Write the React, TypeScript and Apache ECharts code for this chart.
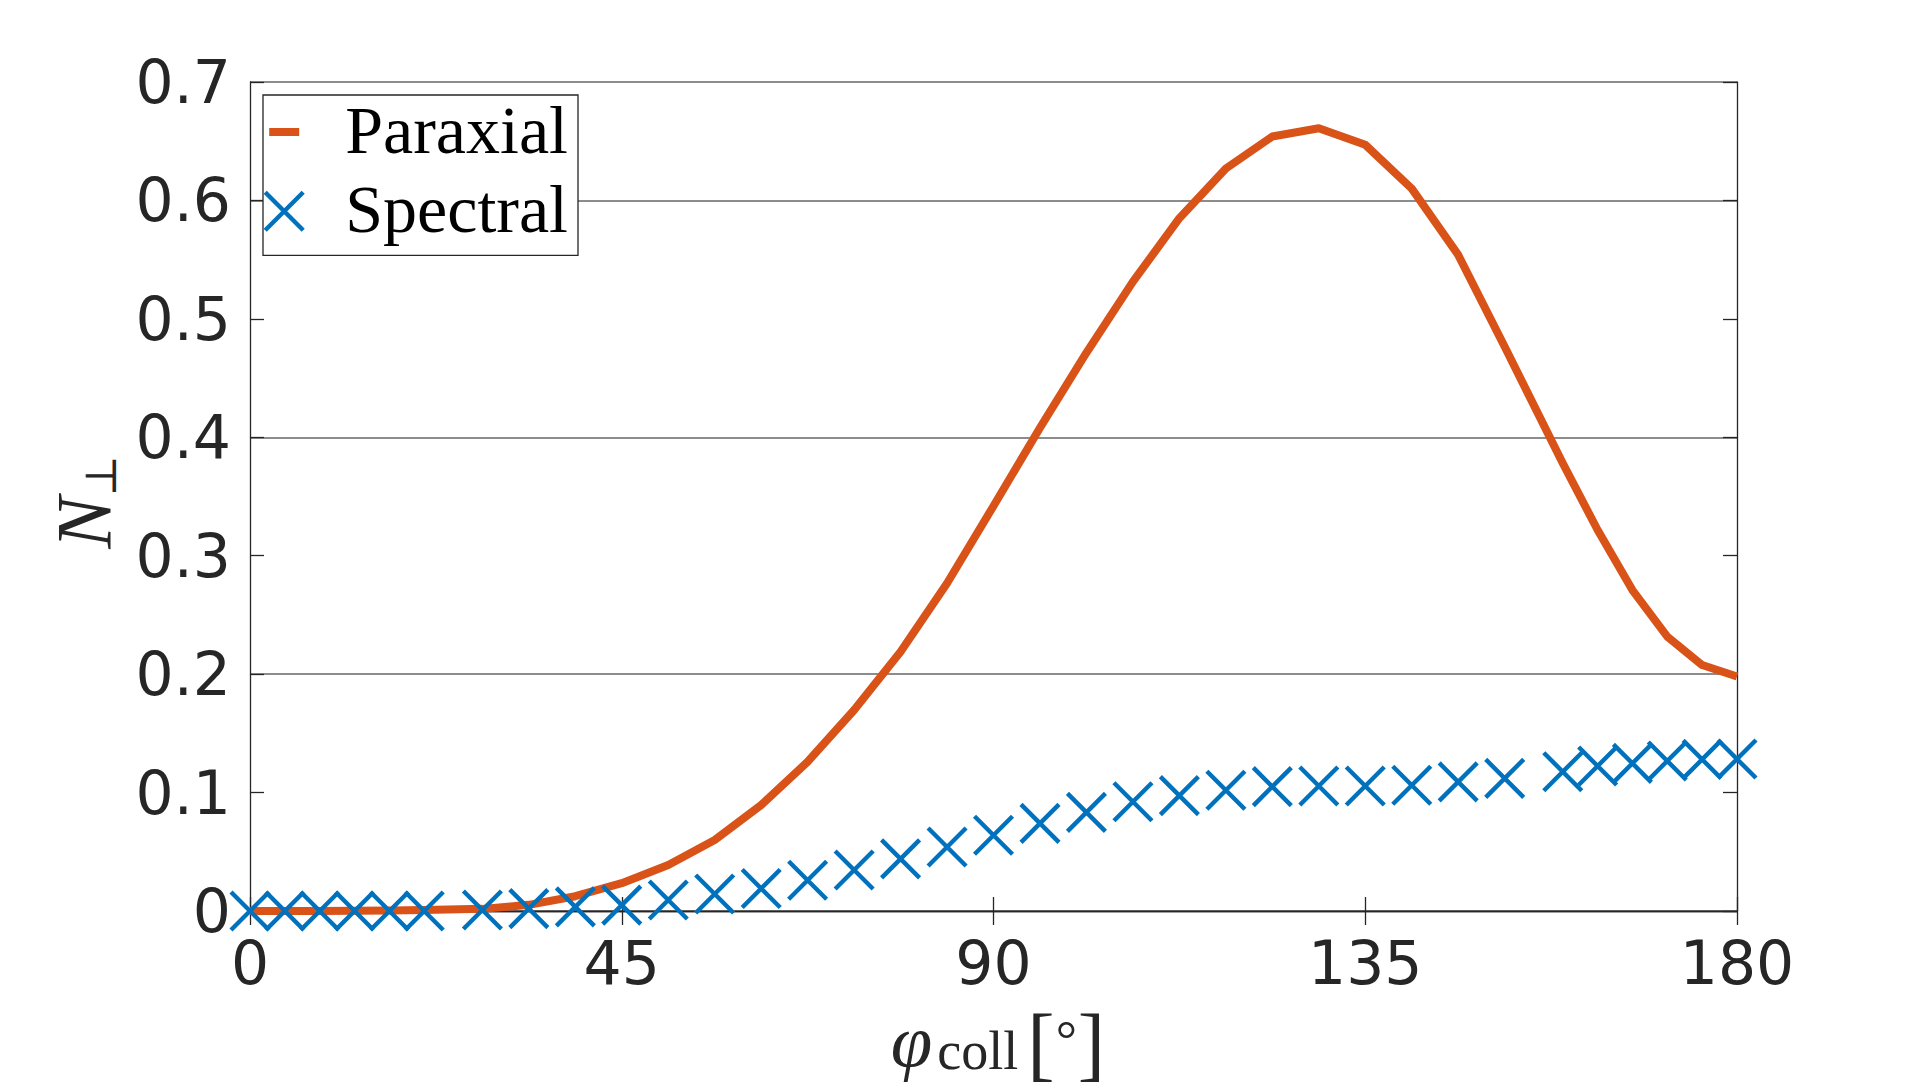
import React, { useEffect, useRef } from 'react';
import * as echarts from 'echarts';

// Collision angle samples (degrees)
const angles = [
  0, 4.22, 8.44, 12.66, 16.88, 21.09, 28.13, 33.75, 39.38, 45, 50.63, 56.25,
  61.88, 67.5, 73.13, 78.75, 84.38, 90, 95.63, 101.25, 106.88, 112.5, 118.13,
  123.75, 129.38, 135, 140.63, 146.25, 151.88, 158.91, 163.13, 167.34, 171.56,
  175.78, 180,
];

// N_perp from the paraxial approximation
const paraxial = [
  0, 0, 0.0001, 0.0002, 0.0004, 0.0008, 0.0018, 0.0052, 0.0125, 0.0235, 0.0388,
  0.06, 0.0895, 0.126, 0.1697, 0.219, 0.2767, 0.342, 0.408, 0.4714, 0.5314,
  0.585, 0.627, 0.654, 0.661, 0.647, 0.61, 0.554, 0.4765, 0.378, 0.3217, 0.271,
  0.2316, 0.2077, 0.198,
];

// N_perp from the spectral calculation
const spectral = [
  0, 0, 0, 0, 0, 0, 0.0008, 0.002, 0.0035, 0.005, 0.0093, 0.0144, 0.019, 0.026,
  0.0346, 0.044, 0.054, 0.064, 0.074, 0.0833, 0.0923, 0.0974, 0.102, 0.105,
  0.1055, 0.1055, 0.1062, 0.109, 0.112, 0.1176, 0.1224, 0.1247, 0.1267, 0.128,
  0.1283,
];

const seriesNames = ['Paraxial', 'Spectral'];
const xRange = [0, 180];
const xStep = 45;
const yRange = [0, 0.7];
const yStep = 0.1;
const gridStep = 0.2;

const AXIS = '#262626';
const ORANGE = '#D95319';
const BLUE = '#0072BD';
const CROSS = 'path://M0,0L10,10M10,0L0,10';
// Legend icons live in a 70x70 box (corner moves fix the box) and sit a
// little below the box centre, so the label reads slightly above them.
const LEGEND_DASH = 'path://M0,0ZM4,33H34V41H4ZM70,70Z';
const LEGEND_CROSS = 'path://M0,0ZM0,18L38,56M38,18L0,56M70,70Z';

export default function App() {
  const ref = useRef<HTMLDivElement>(null);

  useEffect(() => {
    if (!ref.current) return;
    const chart = echarts.init(ref.current, undefined, { renderer: 'svg' });

    const tickFont = {
      fontFamily: 'DejaVu Sans',
      fontSize: 60,
      color: AXIS,
    };

    const boxAxis = (extra: any) => ({
      type: 'value',
      axisLine: { show: true, lineStyle: { color: AXIS, width: 1.3 } },
      axisTick: { show: true, inside: true, length: 14, lineStyle: { color: AXIS, width: 1.3 } },
      splitLine: { show: false },
      ...extra,
    });

    const crossStyle = {
      color: 'rgba(0,0,0,0)',
      borderColor: BLUE,
      borderWidth: 4.4,
      opacity: 1,
    };

    const option: any = {
      animation: false,
      backgroundColor: '#ffffff',
      grid: { left: 250, top: 82, right: 183, bottom: 179, containLabel: false },
      xAxis: [
        boxAxis({
          position: 'bottom',
          min: xRange[0],
          max: xRange[1],
          interval: xStep,
          axisLabel: { ...tickFont, margin: 22 },
        }),
        boxAxis({
          position: 'top',
          min: xRange[0],
          max: xRange[1],
          interval: xStep,
          axisLabel: { show: false },
        }),
      ],
      yAxis: [
        {
          type: 'value',
          position: 'left',
          min: yRange[0],
          max: yRange[1],
          interval: gridStep,
          axisLine: { show: false },
          axisTick: { show: false },
          axisLabel: { show: false },
          splitLine: { show: true, lineStyle: { color: '#8c8c8c', width: 2 } },
        },
        boxAxis({
          position: 'left',
          min: yRange[0],
          max: yRange[1],
          interval: yStep,
          axisLabel: { ...tickFont, margin: 19 },
        }),
        boxAxis({
          position: 'right',
          min: yRange[0],
          max: yRange[1],
          interval: yStep,
          axisLabel: { show: false },
        }),
      ],
      legend: {
        orient: 'vertical',
        left: 263,
        top: 95,
        padding: [0, 10, 9, 0],
        itemWidth: 70,
        itemHeight: 70,
        itemGap: 7,
        symbolKeepAspect: true,
        backgroundColor: '#ffffff',
        borderColor: AXIS,
        borderWidth: 1.3,
        borderRadius: 0,
        textStyle: {
          fontFamily: 'Liberation Serif',
          fontSize: 68,
          color: '#000000',
          lineHeight: 60,
          padding: [0, 0, 0, 5],
        },
        data: [
          {
            name: seriesNames[0],
            icon: LEGEND_DASH,
            itemStyle: { color: ORANGE, borderWidth: 0, opacity: 1 },
          },
          {
            name: seriesNames[1],
            icon: LEGEND_CROSS,
            itemStyle: crossStyle,
          },
        ],
      },
      series: [
        {
          name: seriesNames[0],
          type: 'line',
          xAxisIndex: 0,
          yAxisIndex: 1,
          data: angles.map((a, i) => [a, paraxial[i]]),
          symbol: 'none',
          clip: false,
          lineStyle: { color: ORANGE, width: 8, join: 'round' },
          itemStyle: { color: ORANGE },
          z: 3,
        },
        {
          name: seriesNames[1],
          type: 'scatter',
          xAxisIndex: 0,
          yAxisIndex: 1,
          data: angles.map((a, i) => [a, spectral[i]]),
          symbol: CROSS,
          symbolSize: 38,
          clip: false,
          itemStyle: crossStyle,
          z: 4,
        },
      ],
      graphic: [
        {
          type: 'text',
          x: 82,
          y: 502,
          rotation: Math.PI / 2,
          style: {
            text: '{n|N}{s|⊥}',
            align: 'center',
            verticalAlign: 'middle',
            fill: AXIS,
            rich: {
              n: {
                fontFamily: 'Liberation Serif',
                fontStyle: 'italic',
                fontSize: 78,
                lineHeight: 80,
                verticalAlign: 'bottom',
                fill: AXIS,
              },
              s: {
                fontFamily: 'DejaVu Serif, DejaVu Sans',
                fontSize: 44,
                lineHeight: 44,
                verticalAlign: 'bottom',
                fill: AXIS,
              },
            },
          },
        },
        {
          type: 'text',
          x: 998,
          y: 1084,
          style: {
            text: '{p|φ}{s|coll}{bl|[}{d|°}{b|]}',
            align: 'center',
            verticalAlign: 'bottom',
            fill: AXIS,
            rich: {
              p: {
                fontFamily: 'Liberation Serif',
                fontStyle: 'italic',
                fontSize: 75,
                lineHeight: 90,
                verticalAlign: 'bottom',
                padding: [0, 0, 6, 0],
                fill: AXIS,
              },
              s: {
                fontFamily: 'Liberation Serif',
                fontSize: 54,
                lineHeight: 90,
                verticalAlign: 'bottom',
                padding: [0, 0, 6, 5],
                fill: AXIS,
              },
              bl: {
                fontFamily: 'Liberation Serif',
                fontSize: 82,
                lineHeight: 90,
                verticalAlign: 'bottom',
                padding: [0, 0, 0, 9],
                fill: AXIS,
              },
              b: {
                fontFamily: 'Liberation Serif',
                fontSize: 82,
                lineHeight: 90,
                verticalAlign: 'bottom',
                fill: AXIS,
              },
              d: {
                fontFamily: 'Liberation Serif',
                fontSize: 53,
                lineHeight: 90,
                verticalAlign: 'bottom',
                padding: [0, 1, 19, 1],
                fill: AXIS,
              },
            },
          },
        },
      ],
    };

    chart.setOption(option);
    return () => chart.dispose();
  }, []);

  return (
    <div
      ref={ref}
      style={{
        position: 'absolute',
        left: 0,
        top: 0,
        width: 1920,
        height: 1090,
        background: '#ffffff',
      }}
    />
  );
}
